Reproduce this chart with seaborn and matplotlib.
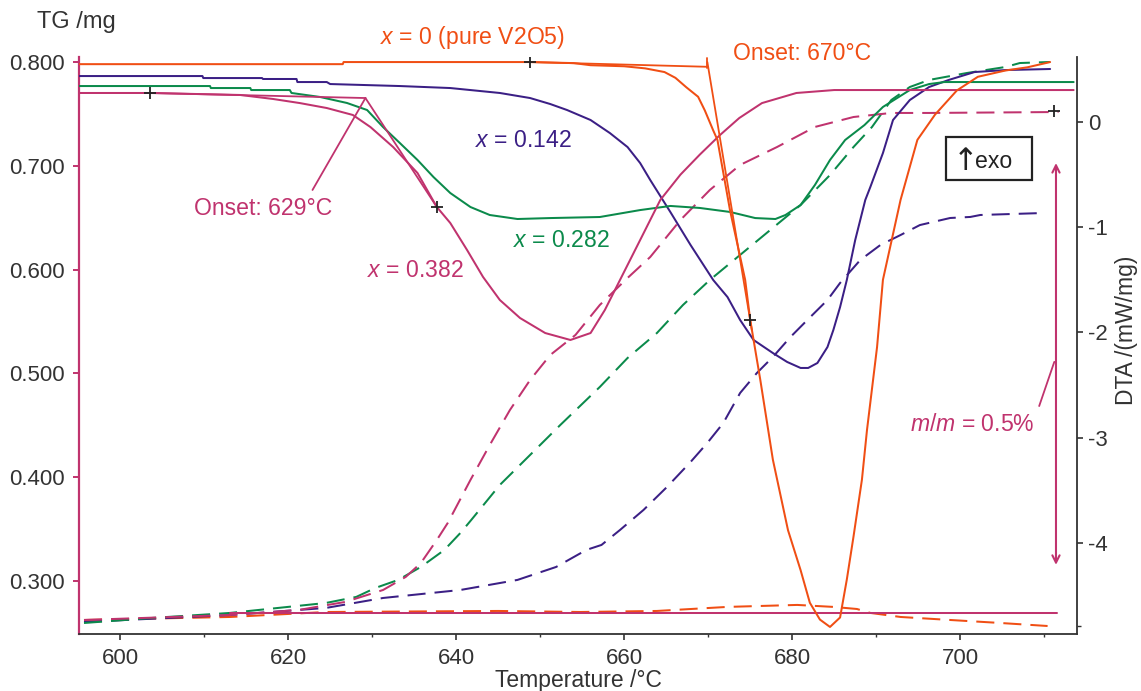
import numpy as np
import pandas as pd
import seaborn as sns
import matplotlib
matplotlib.use("Agg")
import matplotlib.pyplot as plt
from matplotlib.ticker import FixedLocator, FormatStrFormatter
from matplotlib.patches import Rectangle

# ---------------- data ----------------
# DTA curves (solid, right axis, mW/mg)
T_dta_x0 = [595.1, 626.5, 626.6, 648.8, 654.0, 656.0, 660.0, 662.5, 664.8, 666.1, 667.4, 668.8,
            669.6, 670.6, 671.1, 672.6, 674.4, 675.0, 676.2, 677.7, 679.5, 681.0, 682.1, 683.3,
            684.5, 685.7, 686.5, 687.3, 688.3, 688.9, 690.1, 690.8, 692.9, 694.9, 697.0, 699.6,
            702.1, 705.4, 708.0, 710.7]
DTA_x0 = [0.55, 0.55, 0.57, 0.57, 0.56, 0.54, 0.53, 0.51, 0.475, 0.42, 0.33, 0.24,
          0.11, -0.08, -0.17, -0.84, -1.50, -1.88, -2.45, -3.21, -3.88, -4.26, -4.57, -4.73,
          -4.80, -4.71, -4.35, -3.94, -3.40, -2.93, -2.14, -1.50, -0.74, -0.17, 0.07, 0.30,
          0.43, 0.49, 0.52, 0.57]

T_dta_x142 = [595.1, 609.8, 609.9, 616.9, 617.0, 621.0, 621.1, 624.6, 625.0, 633.3, 639.3, 645.2,
              648.8, 651.2, 653.2, 656.0, 658.3, 660.4, 661.9, 663.1, 665.5, 667.9, 670.6, 672.3,
              673.8, 675.4, 677.7, 679.4, 681.0, 681.9, 683.0, 684.2, 684.9, 685.7, 686.5, 687.5,
              688.7, 689.3, 690.8, 692.0, 694.0, 696.3, 698.6, 701.7, 705.4, 710.7]
DTA_x142 = [0.437, 0.437, 0.418, 0.418, 0.409, 0.409, 0.380, 0.380, 0.361, 0.342, 0.323, 0.276,
            0.228, 0.171, 0.114, 0.019, -0.105, -0.238, -0.390, -0.551, -0.856, -1.169, -1.502, -1.664,
            -1.882, -2.072, -2.196, -2.281, -2.338, -2.338, -2.291, -2.139, -1.977, -1.759, -1.502, -1.122,
            -0.741, -0.618, -0.295, 0.019, 0.209, 0.333, 0.399, 0.475, 0.494, 0.504]

T_dta_x282 = [595.1, 610.7, 610.8, 615.5, 615.6, 620.2, 620.4, 623.8, 627.0, 629.4, 631.3, 633.3,
              635.4, 637.3, 639.3, 641.7, 644.0, 647.3, 651.2, 657.1, 661.9, 665.5, 669.0, 672.6,
              675.6, 678.0, 679.2, 681.0, 682.7, 684.5, 686.3, 688.6, 690.8, 694.0, 696.3, 698.1, 713.5]
DTA_x282 = [0.342, 0.342, 0.323, 0.323, 0.304, 0.304, 0.276, 0.238, 0.181, 0.114, -0.048, -0.200,
            -0.361, -0.523, -0.675, -0.808, -0.884, -0.922, -0.913, -0.903, -0.837, -0.798, -0.817, -0.855,
            -0.913, -0.922, -0.884, -0.789, -0.599, -0.361, -0.171, -0.029, 0.143, 0.304, 0.361, 0.380, 0.380]

T_dta_x382 = [595.1, 603.6, 614.3, 618.2, 621.4, 624.6, 627.7, 629.8, 632.5, 635.4, 637.7, 639.3,
              641.3, 643.2, 645.2, 647.6, 650.6, 653.6, 656.0, 657.7, 659.5, 661.9, 664.3, 666.7,
              669.0, 671.4, 673.7, 676.4, 680.5, 685.0, 713.5]
DTA_x382 = [0.276, 0.276, 0.257, 0.219, 0.180, 0.133, 0.067, -0.048, -0.238, -0.485, -0.808, -0.960,
            -1.217, -1.473, -1.692, -1.863, -2.006, -2.072, -2.006, -1.787, -1.502, -1.122, -0.741, -0.500,
            -0.310, -0.124, 0.038, 0.180, 0.276, 0.304, 0.304]

# TG curves (dashed, left axis, mg)
T_tg_x0 = [595.7, 613.1, 624.5, 645.0, 654.8, 663.9, 672.3, 680.6, 684.9, 687.7, 689.3, 692.9,
           698.8, 704.8, 710.4]
TG_x0 = [0.2624, 0.2653, 0.2701, 0.2711, 0.2701, 0.2711, 0.2750, 0.2769, 0.2750, 0.2730, 0.2692, 0.2653,
         0.2624, 0.2595, 0.2566]

T_tg_x142 = [595.7, 613.1, 624.5, 631.3, 640.5, 647.3, 651.9, 655.5, 657.3, 659.5, 662.3, 665.1,
             667.9, 669.9, 671.8, 673.8, 675.8, 677.7, 679.8, 681.8, 684.2, 685.7, 688.1, 690.5,
             692.9, 695.2, 698.8, 701.2, 702.4, 709.9]
TG_x142 = [0.2605, 0.2672, 0.2740, 0.2836, 0.2913, 0.3010, 0.3135, 0.3299, 0.3347, 0.3491, 0.3684, 0.3906,
           0.4146, 0.4330, 0.4522, 0.4811, 0.5004, 0.5158, 0.5351, 0.5514, 0.5707, 0.5871, 0.6092, 0.6237,
           0.6333, 0.6429, 0.6497, 0.6507, 0.6526, 0.6545]

T_tg_x282 = [595.7, 603.9, 613.1, 624.5, 628.1, 630.4, 633.1, 635.8, 638.6, 640.5, 641.8, 645.2,
             648.8, 652.4, 657.1, 660.4, 663.9, 667.0, 670.2, 673.8, 677.4, 681.0, 684.5, 687.3,
             689.5, 691.8, 694.0, 696.3, 700.8, 705.4, 707.1, 710.7]
TG_x282 = [0.2595, 0.2644, 0.2692, 0.2788, 0.2846, 0.2933, 0.3010, 0.3135, 0.3299, 0.3462, 0.3588, 0.3925,
           0.4214, 0.4503, 0.4869, 0.5148, 0.5389, 0.5659, 0.5900, 0.6141, 0.6382, 0.6622, 0.6911, 0.7181,
           0.7374, 0.7634, 0.7759, 0.7827, 0.7894, 0.7952, 0.7990, 0.8000]

T_tg_x382 = [595.7, 613.1, 621.3, 626.8, 631.3, 634.0, 635.8, 637.7, 639.0, 641.7, 644.0, 646.4,
             648.8, 651.2, 654.2, 657.1, 660.4, 663.1, 666.7, 670.2, 673.8, 678.2, 682.7, 687.3,
             691.8, 696.3, 711.7]
TG_x382 = [0.2624, 0.2672, 0.2721, 0.2798, 0.2913, 0.3039, 0.3173, 0.3395, 0.3559, 0.3973, 0.4310, 0.4647,
           0.4936, 0.5177, 0.5370, 0.5659, 0.5919, 0.6121, 0.6478, 0.6767, 0.7008, 0.7181, 0.7374, 0.7470,
           0.7509, 0.7509, 0.7518]

# flat magenta reference line near the bottom
T_ref = [613.1, 711.5]
TG_ref = [0.2692, 0.2692]

# onset constructions
T_on670_a = [648.8, 669.9]; DTA_on670_a = [0.57, 0.525]
T_on670_v = [669.9, 669.9]; DTA_on670_v = [0.61, 0.51]
T_on670_b = [669.9, 675.2]; DTA_on670_b = [0.57, -1.98]
T_on629_a = [603.6, 629.2]; DTA_on629_a = [0.276, 0.228]
T_on629_b = [629.2, 637.7]; DTA_on629_b = [0.228, -0.808]
T_on629_l = [629.2, 622.9]; DTA_on629_l = [0.228, -0.646]

# evaluation markers
T_mark_dta = [648.8, 675.0, 603.6, 637.7]
DTA_mark = [0.57, -1.88, 0.276, -0.808]
T_mark_tg = [711.2]
TG_mark = [0.7528]

x_ticks = [600, 620, 640, 660, 680, 700]
tg_ticks = [0.3, 0.4, 0.5, 0.6, 0.7, 0.8]
dta_ticks = [0, -1, -2, -3, -4]

# ---------------- style ----------------
ORANGE = "#f04e14"
PURPLE = "#3b1f85"
GREEN = "#0b8a4b"
MAGENTA = "#c0336e"
TXT = "#333333"

sns.set_theme(style="white")
plt.rcParams["font.family"] = ["Liberation Sans", "DejaVu Sans"]
plt.rcParams["mathtext.fontset"] = "custom"
plt.rcParams["mathtext.it"] = "Liberation Sans:italic"
plt.rcParams["mathtext.rm"] = "Liberation Sans"
plt.rcParams["axes.unicode_minus"] = False
plt.rcParams["lines.scale_dashes"] = False

fig = plt.figure(figsize=(11.41, 6.91), dpi=100)
ax = fig.add_axes([0.0692, 0.0825, 0.8747, 0.835])
ax2 = ax.twinx()

DASH = (0, (13, 6.5))
LW = 1.45

def line(a, x, y, color, ls="-", lw=LW, z=2):
    sns.lineplot(x=x, y=y, ax=a, color=color, linewidth=lw, estimator=None, sort=False,
                 linestyle=ls, zorder=z)

# TG dashed (left axis)
line(ax, T_tg_x0, TG_x0, ORANGE, DASH)
line(ax, T_tg_x142, TG_x142, PURPLE, DASH)
line(ax, T_tg_x282, TG_x282, GREEN, DASH)
line(ax, T_tg_x382, TG_x382, MAGENTA, DASH)
line(ax, T_ref, TG_ref, MAGENTA, "-")
ax.plot(T_mark_tg, TG_mark, "+", color="#222222", ms=9, mew=1.3, zorder=5)

# DTA solid (right axis)
line(ax2, T_dta_x142, DTA_x142, PURPLE)
line(ax2, T_dta_x282, DTA_x282, GREEN)
line(ax2, T_dta_x382, DTA_x382, MAGENTA)
line(ax2, T_dta_x0, DTA_x0, ORANGE)
for tx, ty, c in [(T_on670_a, DTA_on670_a, ORANGE), (T_on670_v, DTA_on670_v, ORANGE),
                  (T_on670_b, DTA_on670_b, ORANGE), (T_on629_a, DTA_on629_a, MAGENTA),
                  (T_on629_b, DTA_on629_b, MAGENTA), (T_on629_l, DTA_on629_l, MAGENTA)]:
    line(ax2, tx, ty, c, "-", lw=1.3)
ax2.plot(T_mark_dta, DTA_mark, "+", color="#222222", ms=9, mew=1.3, zorder=5)

# ---------------- axes ----------------
ax.set_xlim(595.1, 713.9)
ax.set_ylim(0.2489, 0.8048)
ax2.set_ylim(-4.867, 0.618)

for a in (ax, ax2):
    a.spines["top"].set_visible(False)
    a.grid(False)
ax.spines["right"].set_visible(False)
ax2.spines["left"].set_visible(False)
ax2.spines["bottom"].set_visible(False)
ax.spines["left"].set_color(MAGENTA)
ax.spines["left"].set_linewidth(1.6)
ax.spines["bottom"].set_color(TXT)
ax.spines["bottom"].set_linewidth(1.3)
ax2.spines["right"].set_color(TXT)
ax2.spines["right"].set_linewidth(1.3)

ax.xaxis.set_major_locator(FixedLocator(x_ticks))
ax.xaxis.set_minor_locator(FixedLocator([610, 630, 650, 670, 690, 710]))
ax.yaxis.set_major_locator(FixedLocator(tg_ticks))
ax.yaxis.set_major_formatter(FormatStrFormatter("%.3f"))
ax2.yaxis.set_major_locator(FixedLocator(dta_ticks))
ax2.yaxis.set_major_formatter(FormatStrFormatter("%d"))
ax2.yaxis.set_minor_locator(FixedLocator([-4.79]))

ax.tick_params(axis="x", which="major", direction="out", length=4, width=1.2, color=TXT,
               labelsize=16, labelcolor=TXT, pad=6, bottom=True)
ax.tick_params(axis="x", which="minor", direction="out", length=2.5, width=1.0, color=TXT, bottom=True)
ax.tick_params(axis="y", which="major", direction="out", length=4, width=1.4, color=MAGENTA,
               labelsize=16, labelcolor=TXT, pad=6, left=True)
ax2.tick_params(axis="y", which="major", direction="out", length=4, width=1.2, color=TXT,
                labelsize=16, labelcolor=TXT, pad=4, right=True)
ax2.tick_params(axis="y", which="minor", direction="out", length=3, width=1.0, color=TXT, right=True)

ax.set_xlabel("Temperature /°C", fontsize=16.5, color=TXT)
ax.xaxis.set_label_coords(0.5, -0.080)
ax.xaxis.label.set_va("center")
ax.set_ylabel("")
ax2.set_ylabel("DTA /(mW/mg)", fontsize=16.5, color=TXT, rotation=90)
ax2.yaxis.set_label_coords(1.050, 0.527)
ax2.yaxis.label.set_va("center")
fig.text(37 / 1141, 1 - 28 / 691, "TG /mg", fontsize=17, color=TXT, ha="left", va="baseline")

# ---------------- annotations ----------------
FS = 16.6
ax2.text(642.0, 0.80, "$x$ = 0 (pure V2O5)", color=ORANGE, fontsize=FS, ha="center", va="center",
         clip_on=False)
ax2.text(672.9, 0.656, "Onset: 670°C", color=ORANGE, fontsize=FS, ha="left", va="center")
ax2.text(642.3, -0.171, "$x$ = 0.142", color=PURPLE, fontsize=FS, ha="left", va="center")
ax2.text(646.8, -1.122, "$x$ = 0.282", color=GREEN, fontsize=FS, ha="left", va="center")
ax2.text(629.4, -1.416, "$x$ = 0.382", color=MAGENTA, fontsize=FS, ha="left", va="center")
ax2.text(608.8, -0.818, "Onset: 629°C", color=MAGENTA, fontsize=FS, ha="left", va="center")

# "exo" box
ax2.add_patch(Rectangle((698.3, -0.551), 10.2, 0.408, fill=True, fc="white", ec="#222222",
                        lw=1.6, zorder=6))
ax2.text(700.6, -0.371, "↑", color="#222222", fontsize=22, ha="center", va="center",
         family=["DejaVu Sans"], zorder=7)
ax2.text(701.8, -0.437, "exo", color="#222222", fontsize=FS, ha="left", va="baseline", zorder=7)

ax2.text(708.9, -2.88, "$m$/$m$ = 0.5%", color=MAGENTA, fontsize=FS, ha="right", va="center")
line(ax2, [709.4, 711.2], [-2.70, -2.28], MAGENTA, "-", lw=1.3)
ax2.annotate("", xy=(711.4, -0.39), xytext=(711.4, -4.21),
             arrowprops=dict(arrowstyle="<->", color=MAGENTA, lw=1.5, mutation_scale=13,
                             shrinkA=0, shrinkB=0))

fig.savefig("out.png", dpi=100)
